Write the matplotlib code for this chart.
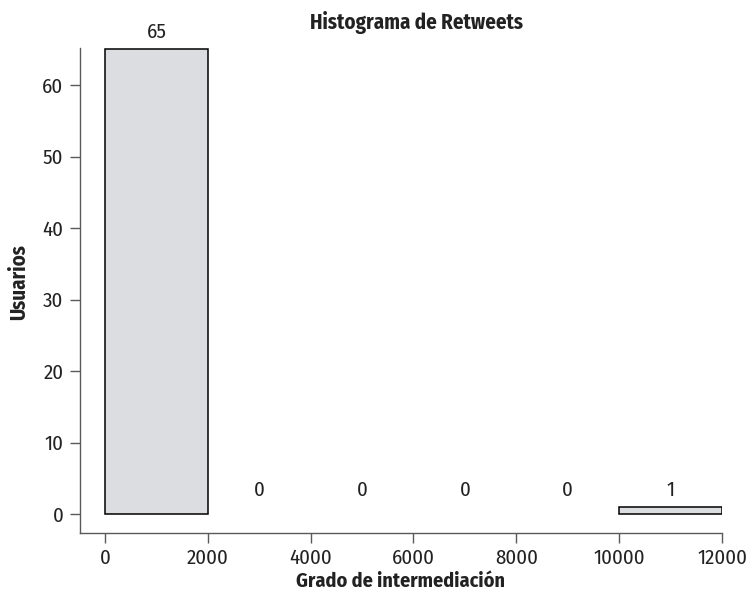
import matplotlib
matplotlib.use("Agg")
import matplotlib.pyplot as plt

# --- Datos del histograma ---
BIN_EDGES = [0, 2000, 4000, 6000, 8000, 10000, 12000]
COUNTS = [65, 0, 0, 0, 0, 1]
X_TICKS = [0, 2000, 4000, 6000, 8000, 10000, 12000]
Y_TICKS = [0, 10, 20, 30, 40, 50, 60]

TITLE = "Histograma de Retweets"
XLABEL = "Grado de intermediación"
YLABEL = "Usuarios"

BAR_COLOR = "#dcdde0"
AXIS_COLOR = "#5a5a5a"
TEXT_COLOR = "#222222"

plt.rcParams["font.family"] = ["Fira Sans Condensed", "PT Sans Narrow",
                               "Roboto Condensed", "Liberation Sans Narrow",
                               "DejaVu Sans"]

W, H = 749, 591
fig = plt.figure(figsize=(W / 100, H / 100), dpi=100)
ax = fig.add_axes([80 / W, (H - 533) / H, (722 - 80) / W, (533 - 48) / H])

# Barras (solo las que tienen datos)
for i, c in enumerate(COUNTS):
    left, right = BIN_EDGES[i], BIN_EDGES[i + 1]
    if c > 0:
        ax.bar(left, c, width=right - left, align="edge",
               facecolor=BAR_COLOR, edgecolor="black", linewidth=1.1)
    # etiqueta encima de la barra
    ax.annotate(str(c), xy=((left + right) / 2, max(c, 1)), xytext=(0, 12),
                textcoords="offset points", ha="center", va="center",
                fontsize=15, color=TEXT_COLOR, annotation_clip=False)

ax.set_xlim(-486, 12000)
ax.set_ylim(-2.66, 65.2)
ax.set_xticks(X_TICKS)
ax.set_yticks(Y_TICKS)

for side in ["top", "right"]:
    ax.spines[side].set_visible(False)
for side in ["left", "bottom"]:
    ax.spines[side].set_color(AXIS_COLOR)
    ax.spines[side].set_linewidth(1.0)

ax.tick_params(axis="both", direction="out", length=7, width=1.0,
               colors=AXIS_COLOR, labelcolor=TEXT_COLOR, labelsize=15)
ax.tick_params(axis="y", pad=5)
ax.tick_params(axis="x", pad=4)

# Titulos y etiquetas de ejes
fig.text(401 / W, 0.0, XLABEL, ha="center", va="bottom",
         fontsize=14.5, fontweight="bold", color=TEXT_COLOR)
fig.text(19 / W, 1 - 282 / H, YLABEL, ha="center", va="center", rotation=90,
         fontsize=15, fontweight="bold", color=TEXT_COLOR)
fig.text(417 / W, 1 - 22 / H, TITLE, ha="center", va="center",
         fontsize=15, fontweight="bold", color=TEXT_COLOR)

fig.savefig("out.png", dpi=100)
